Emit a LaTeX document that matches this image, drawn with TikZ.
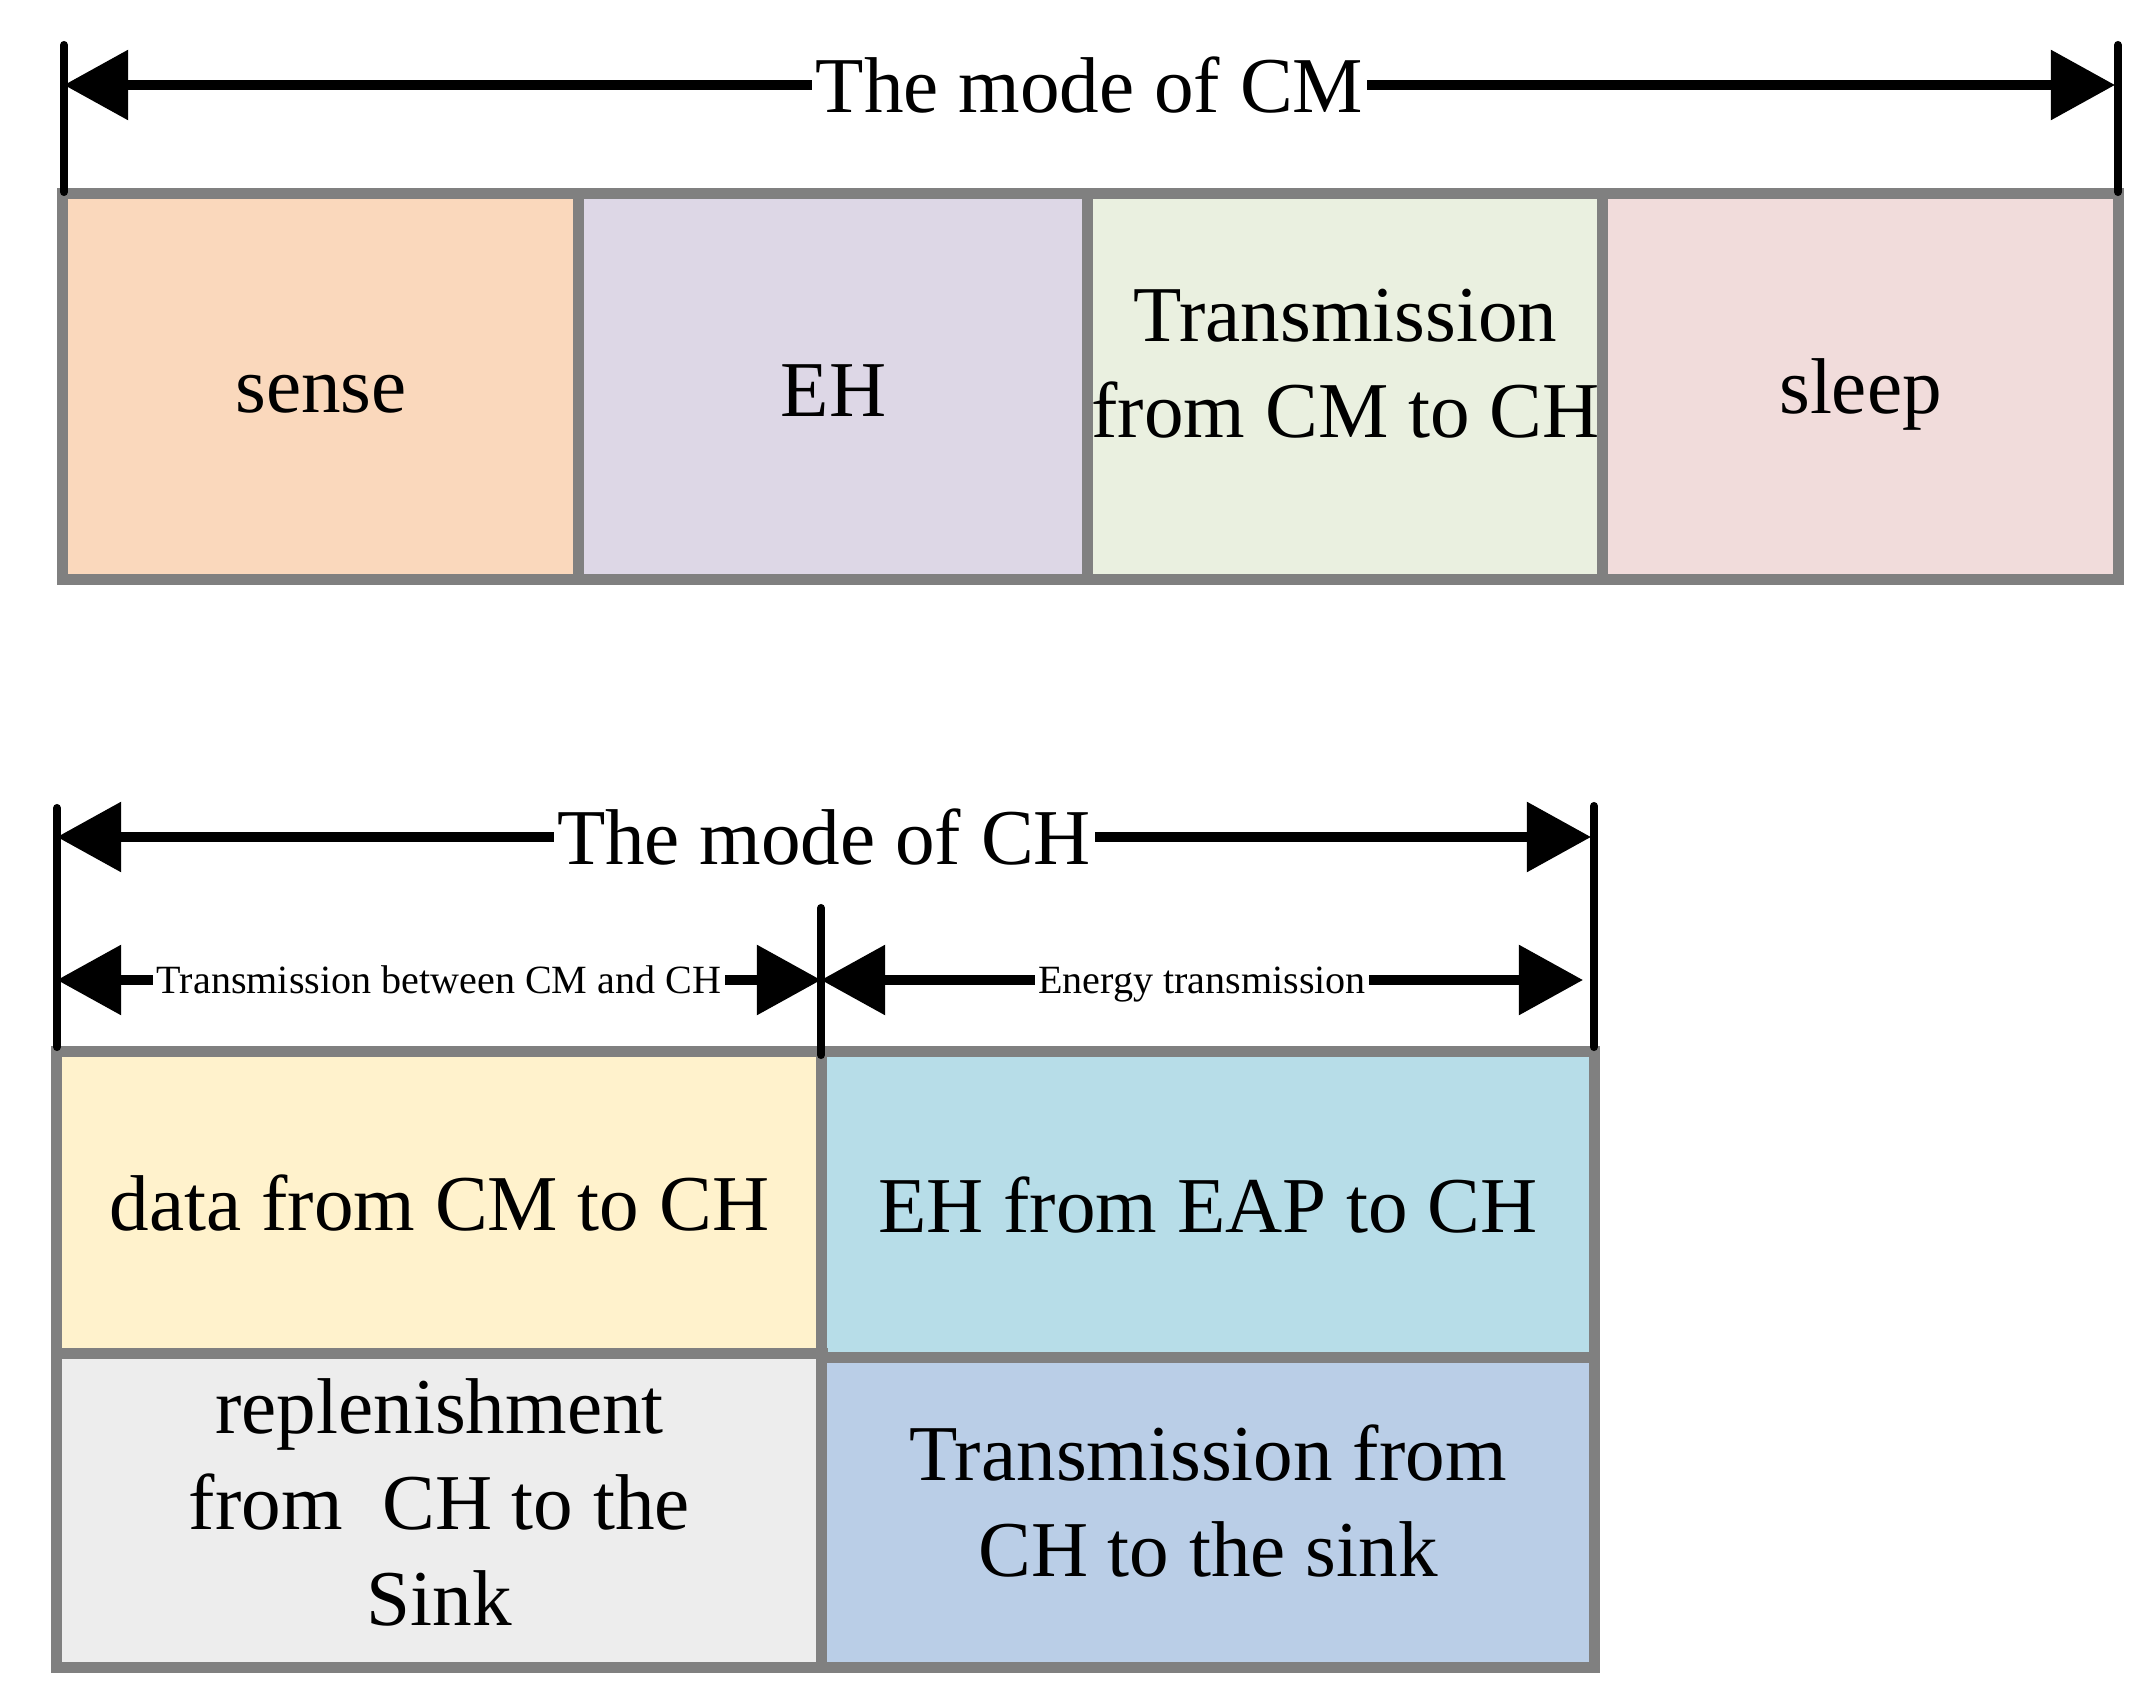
\documentclass[tikz,border=0pt]{standalone}
\usepackage{fontspec}
\setmainfont{Liberation Serif}
\usepackage{tikz}
\usetikzlibrary{arrows.meta}
\definecolor{framegray}{HTML}{808080}
\definecolor{senseorange}{HTML}{FAD8BC}
\definecolor{ehlilac}{HTML}{DDD7E6}
\definecolor{transgreen}{HTML}{EAF0E0}
\definecolor{sleeppink}{HTML}{F1DCDB}
\definecolor{datayellow}{HTML}{FFF2CC}
\definecolor{eapcyan}{HTML}{B7DDE8}
\definecolor{replengray}{HTML}{EDEDED}
\definecolor{sinkblue}{HTML}{BACEE7}

\begin{document}
\begin{tikzpicture}[
    x=0.01cm, y=-0.01cm,
    >={Triangle[length=0.64cm, width=0.68cm]},
    slotbox/.style={
        draw=framegray,
        line width=3.1pt,
        inner sep=0pt,
        align=center,
        font=\fontsize{22.5}{27.3}\selectfont
    },
    tickline/.style={
        line width=2.3pt,
        line cap=round
    },
    spanarrow/.style={
        <->,
        line width=2.6pt
    }
]

    \useasboundingbox (0,0) rectangle (2156,1694);

    % mode of CM
    \node[
        slotbox,
        fill=senseorange,
        minimum width=5.16cm,
        minimum height=3.85cm,
        text height=15pt
    ] (sense) at (321,386.5) {sense};

    \node[
        slotbox,
        fill=ehlilac,
        minimum width=5.09cm,
        minimum height=3.85cm,
        text height=17pt
    ] (eh) at (833.5,386.5) {EH};

    \node[
        slotbox,
        fill=transgreen,
        minimum width=5.15cm,
        minimum height=3.85cm,
        text depth=13pt
    ] (cmtoch) at (1345.5,386.5) {Transmission\\from CM to CH};

    \node[
        slotbox,
        fill=sleeppink,
        minimum width=5.15cm,
        minimum height=3.85cm,
        text height=20pt
    ] (sleep) at (1860.5,386.5) {sleep};

    \coordinate (cmLtop) at (64,45);
    \coordinate (cmLbot) at (64,192);
    \coordinate (cmRtop) at (2118,45);
    \coordinate (cmRbot) at (2118,192);
    \coordinate (cmL) at (64,85);
    \coordinate (cmR) at (2115,85);

    \draw[tickline] (cmLtop) -- (cmLbot);
    \draw[tickline] (cmRtop) -- (cmRbot);

    \draw[spanarrow] (cmL) -- (cmR)
    node[midway, fill=white, inner sep=1pt, font=\fontsize{22.5}{27}\selectfont] (cmtitle) {The mode of CM};

    % mode of CH
    \node[
        slotbox,
        fill=datayellow,
        minimum width=7.65cm,
        minimum height=3.02cm
    ] (cmdata) at (439.5,1203) {data from CM to CH};

    \node[
        slotbox,
        fill=eapcyan,
        minimum width=7.72cm,
        minimum height=3.06cm
    ] (eapeh) at (1208,1205) {EH from EAP to CH};

    \node[
        slotbox,
        fill=replengray,
        minimum width=7.65cm,
        minimum height=3.13cm,
        text depth=4.6pt
    ] (replen) at (439.5,1510.5) {replenishment\\from~~CH to the\\Sink};

    \node[
        slotbox,
        fill=sinkblue,
        minimum width=7.72cm,
        minimum height=3.09cm,
        text depth=7pt
    ] (tosink) at (1208,1512.5) {Transmission from\\CH to the sink};

    \coordinate (chLtop) at (57,808);
    \coordinate (chLbot) at (57,1047);
    \coordinate (chRtop) at (1594,806);
    \coordinate (chRbot) at (1594,1047);
    \coordinate (chMtop) at (821,908);
    \coordinate (chMbot) at (821,1055);
    \coordinate (chL) at (57,837);
    \coordinate (chR) at (1591,837);
    \coordinate (subL) at (57,980);
    \coordinate (subM) at (821,980);
    \coordinate (subR) at (1583,980);

    \draw[tickline] (chLtop) -- (chLbot);
    \draw[tickline] (chRtop) -- (chRbot);
    \draw[tickline] (chMtop) -- (chMbot);

    \draw[spanarrow] (chL) -- (chR)
    node[midway, fill=white, inner sep=1pt, font=\fontsize{22.5}{27}\selectfont] (chtitle) {The mode of CH};

    \draw[spanarrow] (subL) -- (subM)
    node[midway, fill=white, inner sep=1pt, font=\fontsize{11.4}{13.7}\selectfont] (linklabel) {Transmission between CM and CH};

    \draw[spanarrow] (subM) -- (subR)
    node[midway, fill=white, inner sep=1pt, text depth=0pt, font=\fontsize{11.4}{13.7}\selectfont] (energylabel) {Energy transmission};

\end{tikzpicture}
\end{document}
